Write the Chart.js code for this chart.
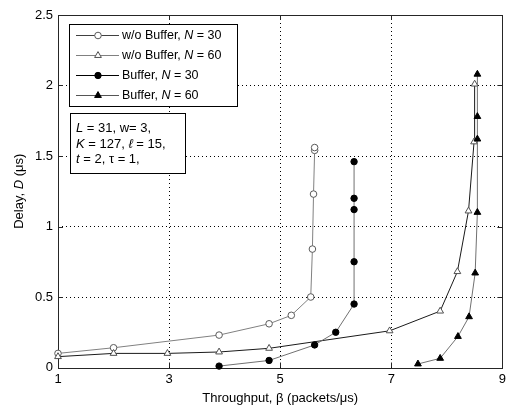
<!DOCTYPE html>
<html><head><meta charset="utf-8">
<script src="https://cdn.jsdelivr.net/npm/chart.js@4.4.1/dist/chart.umd.min.js"></script>
<style>html,body{margin:0;padding:0;background:#fff}canvas{display:block}</style>
</head><body>
<canvas id="c" width="510" height="407"></canvas>
<script>
const xTicks = [1, 3, 5, 7, 9];
const yTicks = [0, 0.5, 1, 1.5, 2, 2.5];
const yTickLabels = ['0', '0.5', '1', '1.5', '2', '2.5'];

const noBufN30X = [1, 2, 3.9, 4.8, 5.2, 5.55, 5.58, 5.6, 5.62, 5.62];
const noBufN30Y = [0.10, 0.14, 0.23, 0.31, 0.37, 0.50, 0.84, 1.23, 1.54, 1.56];
const noBufN60X = [1, 2, 2.97, 3.9, 4.8, 6.97, 7.88, 8.19, 8.39, 8.49, 8.5];
const noBufN60Y = [0.077, 0.10, 0.10, 0.11, 0.136, 0.26, 0.40, 0.68, 1.11, 1.6, 2.01];
const bufN30X = [3.9, 4.8, 5.62, 6.0, 6.33, 6.33, 6.33, 6.33, 6.33];
const bufN30Y = [0.01, 0.05, 0.16, 0.25, 0.45, 0.75, 1.12, 1.2, 1.46];
const bufN60X = [7.48, 7.88, 8.2, 8.4, 8.51, 8.55, 8.55, 8.55, 8.55];
const bufN60Y = [0.025, 0.065, 0.22, 0.36, 0.67, 1.1, 1.62, 1.78, 2.08];

const legendLabels = [
  [['w/o Buffer, ', 0], ['N', 1], [' = 30', 0]],
  [['w/o Buffer, ', 0], ['N', 1], [' = 60', 0]],
  [['Buffer, ', 0], ['N', 1], [' = 30', 0]],
  [['Buffer, ', 0], ['N', 1], [' = 60', 0]]
];
const noteLines = [
  [['L', 1], [' = 31, w= 3,', 0]],
  [['K', 1], [' = 127, ', 0], ['ℓ', 1], [' = 15,', 0]],
  [['t', 1], [' = 2, τ = 1,', 0]]
];
const xTitle = [['Throughput, β (packets/μs)', 0]];
const yTitle = [['Delay, ', 0], ['D', 1], [' (μs)', 0]];

const FONT = '"Liberation Sans", Arial, Helvetica, sans-serif';
function pts(xs, ys) { return xs.map((x, i) => ({x: x, y: ys[i]})); }

const dsStyle = [
  {line: '#808080', stroke: '#5a5a5a', fill: '#ffffff', style: 'circle', r: 3.3, legLine: '#404040'},
  {line: '#1a1a1a', stroke: '#505050', fill: '#ffffff', style: 'triangle', r: 3.9, legLine: '#808080'},
  {line: '#707070', stroke: '#000000', fill: '#000000', style: 'circle', r: 3.2, legLine: '#000000'},
  {line: '#707070', stroke: '#000000', fill: '#000000', style: 'triangle', r: 3.9, legLine: '#555555'}
];
const seriesData = [pts(noBufN30X, noBufN30Y), pts(noBufN60X, noBufN60Y), pts(bufN30X, bufN30Y), pts(bufN60X, bufN60Y)];

function richWidth(ctx, segs, size) {
  let w = 0;
  for (const [t, it] of segs) { ctx.font = (it ? 'italic ' : '') + size + 'px ' + FONT; w += ctx.measureText(t).width; }
  return w;
}
function drawRich(ctx, segs, x, y, size) {
  for (const [t, it] of segs) {
    ctx.font = (it ? 'italic ' : '') + size + 'px ' + FONT;
    ctx.fillText(t, x, y);
    x += ctx.measureText(t).width;
  }
}
function marker(ctx, st, x, y) {
  ctx.save();
  ctx.lineWidth = 1;
  ctx.strokeStyle = st.stroke;
  ctx.fillStyle = st.fill;
  ctx.beginPath();
  if (st.style === 'circle') {
    ctx.arc(x, y, st.r, 0, Math.PI * 2);
  } else {
    const r = st.r;
    ctx.moveTo(x, y - r);
    ctx.lineTo(x + r * 0.866, y + r * 0.5);
    ctx.lineTo(x - r * 0.866, y + r * 0.5);
    ctx.closePath();
  }
  ctx.fill();
  ctx.stroke();
  ctx.restore();
}

const framePlugin = {
  id: 'frame',
  beforeDatasetsDraw(chart) {
    const {ctx, chartArea: a, scales: {x, y}} = chart;
    ctx.save();
    ctx.strokeStyle = '#262626';
    ctx.lineWidth = 1;
    ctx.strokeRect(Math.round(a.left) + 0.5, Math.round(a.top) + 0.5, Math.round(a.right - a.left), Math.round(a.bottom - a.top));
    ctx.beginPath();
    for (const v of xTicks) {
      const px = Math.round(x.getPixelForValue(v)) + 0.5;
      ctx.moveTo(px, a.bottom); ctx.lineTo(px, a.bottom - 5);
      ctx.moveTo(px, a.top); ctx.lineTo(px, a.top + 5);
    }
    for (const v of yTicks) {
      const py = Math.round(y.getPixelForValue(v)) + 0.5;
      ctx.moveTo(a.left, py); ctx.lineTo(a.left + 5, py);
      ctx.moveTo(a.right, py); ctx.lineTo(a.right - 5, py);
    }
    ctx.stroke();
    ctx.restore();
  },
  afterDraw(chart) {
    const {ctx, chartArea: a} = chart;
    ctx.save();
    ctx.fillStyle = '#fff';
    ctx.fillRect(69.5, 24.5, 168, 82);
    ctx.strokeStyle = '#000';
    ctx.lineWidth = 1;
    ctx.strokeRect(69.5, 24.5, 168, 82);
    ctx.textBaseline = 'middle';
    ctx.textAlign = 'left';
    legendLabels.forEach((lab, i) => {
      const yy = 35 + i * 20;
      const st = dsStyle[i];
      ctx.strokeStyle = st.legLine;
      ctx.beginPath();
      ctx.moveTo(76, yy + 0.5); ctx.lineTo(119, yy + 0.5);
      ctx.stroke();
      marker(ctx, st, 98, yy + 0.5);
      ctx.fillStyle = '#000';
      drawRich(ctx, lab, 122, yy + 1, 12.5);
    });
    ctx.fillStyle = '#fff';
    ctx.fillRect(70.5, 113.5, 115, 60);
    ctx.strokeStyle = '#000';
    ctx.strokeRect(70.5, 113.5, 115, 60);
    ctx.fillStyle = '#000';
    noteLines.forEach((ln, i) => drawRich(ctx, ln, 76, 128.5 + i * 15.5, 13));
    ctx.textBaseline = 'middle';
    const cx = (a.left + a.right) / 2;
    const xw = richWidth(ctx, xTitle, 13);
    drawRich(ctx, xTitle, cx - xw / 2, 398, 13);
    ctx.save();
    ctx.translate(19, (a.top + a.bottom) / 2);
    ctx.rotate(-Math.PI / 2);
    const yw = richWidth(ctx, yTitle, 13);
    drawRich(ctx, yTitle, -yw / 2, 0, 13);
    ctx.restore();
    ctx.restore();
  }
};

new Chart(document.getElementById('c'), {
  type: 'scatter',
  data: {
    datasets: seriesData.map((d, i) => ({
      data: d,
      showLine: true,
      borderColor: dsStyle[i].line,
      borderWidth: 1,
      pointStyle: dsStyle[i].style,
      pointRadius: dsStyle[i].r,
      pointBorderColor: dsStyle[i].stroke,
      pointBackgroundColor: dsStyle[i].fill,
      pointBorderWidth: 1,
      clip: false,
      order: 4 - i
    }))
  },
  options: {
    responsive: false,
    animation: false,
    devicePixelRatio: 1,
    layout: {padding: {top: 15, right: 3, left: 0, bottom: 0}},
    plugins: {legend: {display: false}, tooltip: {enabled: false}},
    scales: {
      x: {
        type: 'linear', min: 1, max: 9,
        afterBuildTicks: s => { s.ticks = xTicks.map(v => ({value: v})); },
        afterFit: s => { s.height = 39.5; },
        ticks: {color: '#000', font: {size: 13, family: FONT}, padding: 4, maxRotation: 0, autoSkip: false},
        grid: {color: c => (c.tick && (c.tick.value === 1 || c.tick.value === 9)) ? 'rgba(0,0,0,0)' : '#000', lineWidth: 1, drawTicks: false},
        border: {display: false, dash: [1, 3]}
      },
      y: {
        type: 'linear', min: 0, max: 2.5,
        afterBuildTicks: s => { s.ticks = yTicks.map(v => ({value: v})); },
        afterFit: s => { s.width = 58; },
        ticks: {color: '#000', font: {size: 13, family: FONT}, padding: 5, autoSkip: false,
          callback: (v) => { const i = yTicks.indexOf(v); return i >= 0 ? yTickLabels[i] : ''; }},
        grid: {color: c => (c.tick && (c.tick.value === 0 || c.tick.value === 2.5)) ? 'rgba(0,0,0,0)' : '#000', lineWidth: 1, drawTicks: false},
        border: {display: false, dash: [1, 3]}
      }
    }
  },
  plugins: [framePlugin]
});
</script>
</body></html>
